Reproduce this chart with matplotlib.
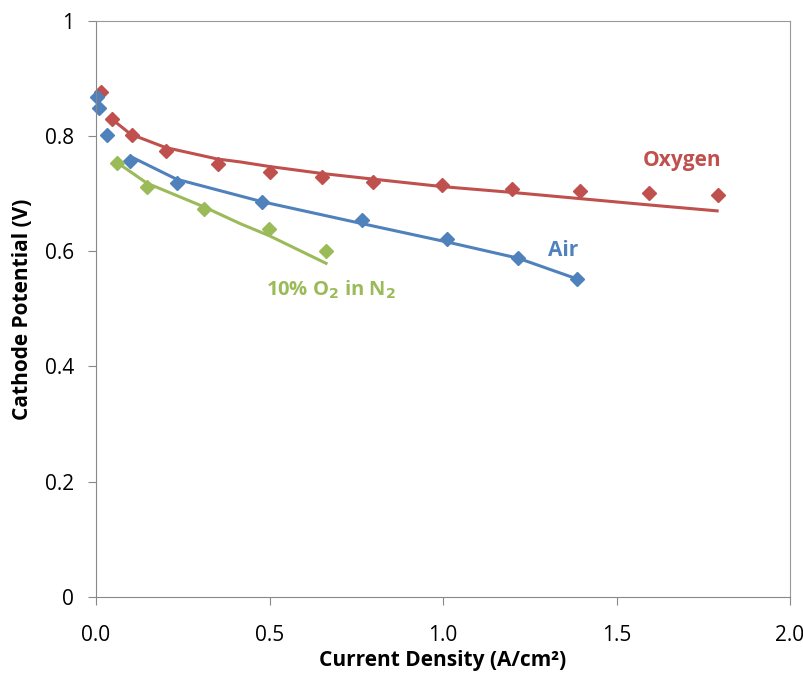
import matplotlib.pyplot as plt

plt.rcParams['font.family'] = ['Open Sans', 'DejaVu Sans']

# measured points
oxygen_x = [0.014, 0.047, 0.105, 0.201, 0.351, 0.501, 0.650, 0.799, 0.998, 1.199, 1.395, 1.594, 1.793]
oxygen_y = [0.876, 0.830, 0.801, 0.774, 0.752, 0.738, 0.728, 0.720, 0.715, 0.708, 0.705, 0.701, 0.697]

air_x = [0.002, 0.010, 0.031, 0.098, 0.232, 0.478, 0.766, 1.012, 1.216, 1.386]
air_y = [0.868, 0.849, 0.801, 0.757, 0.718, 0.685, 0.655, 0.621, 0.588, 0.552]

o2n2_x = [0.061, 0.147, 0.311, 0.499, 0.663]
o2n2_y = [0.753, 0.711, 0.673, 0.638, 0.601]

# fitted curves as drawn in the figure
oxygen_fit_x = [0.046, 0.10, 0.20, 0.35, 0.415, 0.50, 0.65, 0.80, 1.00, 1.20, 1.40, 1.60, 1.79]
oxygen_fit_y = [0.829, 0.803, 0.780, 0.760, 0.755, 0.747, 0.735, 0.725, 0.712, 0.702, 0.691, 0.680, 0.670]

air_fit_x = [0.104, 0.232, 0.415, 0.478, 0.766, 1.012, 1.216, 1.386]
air_fit_y = [0.763, 0.725, 0.696, 0.686, 0.648, 0.616, 0.588, 0.552]

o2n2_fit_x = [0.063, 0.147, 0.311, 0.415, 0.499, 0.663]
o2n2_fit_y = [0.753, 0.718, 0.677, 0.648, 0.627, 0.579]

red = '#C0504D'
blue = '#4F81BD'
green = '#9BBB59'

fig = plt.figure(figsize=(8.04, 6.74), dpi=100)
ax = fig.add_axes([0.1194, 0.1142, 0.8632, 0.8551])

ax.plot(oxygen_fit_x, oxygen_fit_y, color=red, lw=2.2)
ax.plot(air_fit_x, air_fit_y, color=blue, lw=2.2)
ax.plot(o2n2_fit_x, o2n2_fit_y, color=green, lw=2.2)

ax.plot(oxygen_x, oxygen_y, 'D', color=red, ms=7, ls='none', clip_on=False)
ax.plot(air_x, air_y, 'D', color=blue, ms=7, ls='none', clip_on=False)
ax.plot(o2n2_x, o2n2_y, 'D', color=green, ms=7, ls='none', clip_on=False)

ax.text(1.69, 0.758, 'Oxygen', color=red, fontsize=15, fontweight='bold', ha='center', va='center')
ax.text(1.346, 0.602, 'Air', color=blue, fontsize=15, fontweight='bold', ha='center', va='center')
ax.text(0.49, 0.533, '10% O$_\\mathbf{2}$ in N$_\\mathbf{2}$', color=green, fontsize=14.5,
        fontweight='bold', ha='left', va='center')

ax.set_xlim(0, 2.0)
ax.set_ylim(0, 1.0)
ax.set_xticks([0, 0.5, 1.0, 1.5, 2.0])
ax.set_xticklabels(['0.0', '0.5', '1.0', '1.5', '2.0'])
ax.set_yticks([0, 0.2, 0.4, 0.6, 0.8, 1.0])
ax.set_yticklabels(['0', '0.2', '0.4', '0.6', '0.8', '1'])
ax.tick_params(labelsize=15, length=6, color='#888888')
ax.tick_params(axis='x', pad=14)
ax.tick_params(axis='y', pad=10)

for s in ['left', 'bottom']:
    ax.spines[s].set_color('#888888')
for s in ['top', 'right']:
    ax.spines[s].set_color('#999999')

ax.set_xlabel('Current Density (A/cm²)', fontsize=15, fontweight='bold', labelpad=3)
ax.set_ylabel('Cathode Potential (V)', fontsize=15, fontweight='bold', labelpad=8)

fig.savefig('out.png', dpi=100)
